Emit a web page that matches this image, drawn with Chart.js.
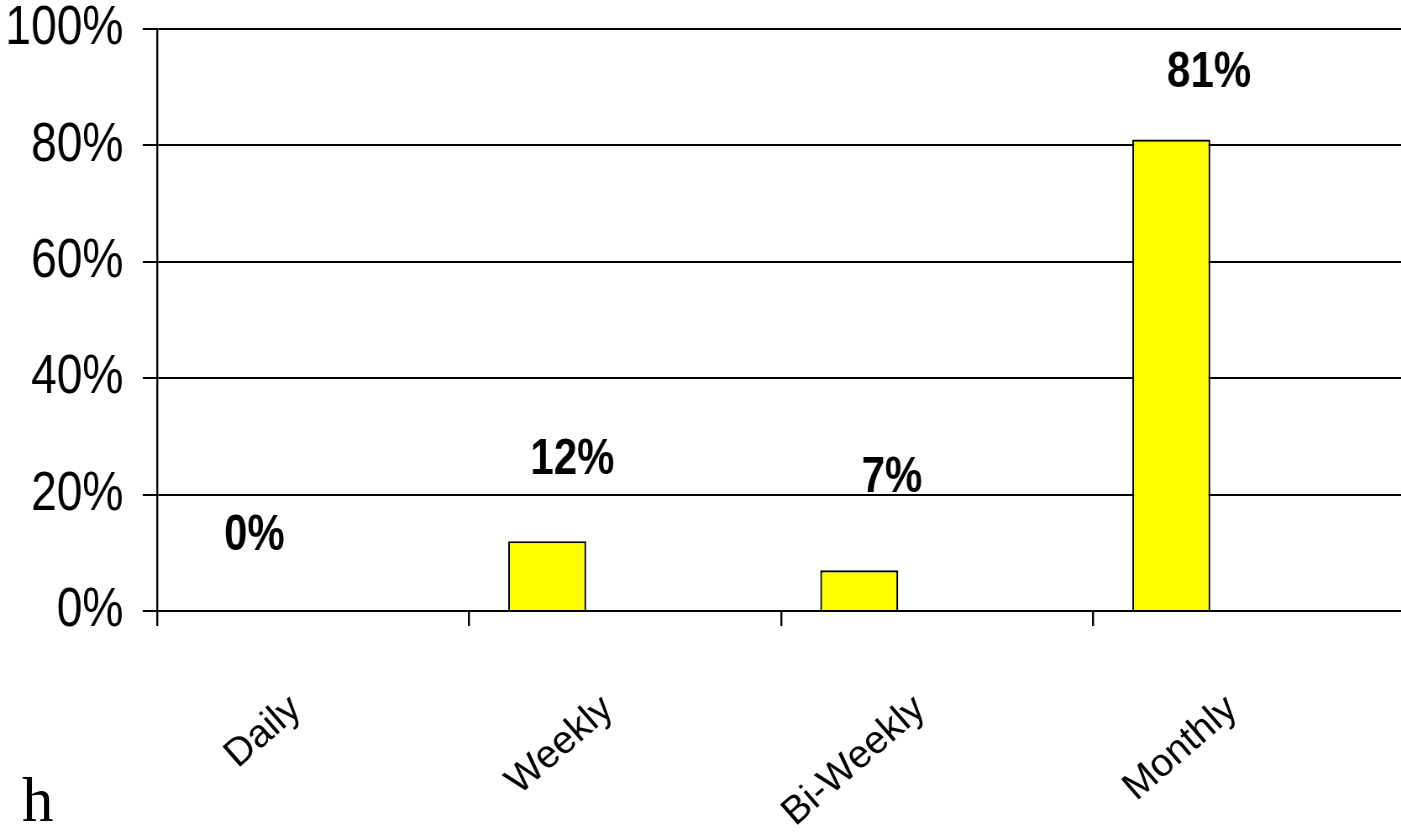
<!DOCTYPE html>
<html>
<head>
<meta charset="utf-8">
<script src="https://cdn.jsdelivr.net/npm/chart.js@4.4.1/dist/chart.umd.min.js"></script>
<style>
  html, body { margin: 0; padding: 0; background: #fff; overflow: hidden; }
  body { width: 1401px; height: 840px; position: relative; }
  /* chart text in the reference is narrow, so the chart is drawn wide and squeezed */
  #wrap { position: absolute; left: 0; top: 0; width: 1673px; height: 840px; transform: scaleX(0.84); transform-origin: 0 0; }
  #note { position: absolute; left: 22px; top: 769px; font: 63px/1 "Liberation Serif", "Times New Roman", serif; color: #000; }
</style>
</head>
<body>
<div id="wrap"><canvas id="chart"></canvas></div>
<div id="note">h</div>
<script>
const categories = ['Daily', 'Weekly', 'Bi-Weekly', 'Monthly'];
const shares = [0, 12, 7, 81];          // percent of responses
const yTicks = [0, 20, 40, 60, 80, 100];

const SANS = '"Liberation Sans", Arial, sans-serif';
const SQUEEZE = 0.84;                   // must match the css scaleX above

// bold value labels sitting above and right of each bar
const valueLabels = {
  id: 'valueLabels',
  afterDatasetsDraw(chart, args, opts) {
    const ctx = chart.ctx;
    const meta = chart.getDatasetMeta(0);
    ctx.save();
    ctx.font = 'bold 50px ' + SANS;
    ctx.fillStyle = '#000';
    ctx.textAlign = 'center';
    ctx.textBaseline = 'middle';
    meta.data.forEach((bar, i) => {
      const [dx, dy] = opts.nudge[i];
      ctx.fillText(shares[i] + '%', bar.x + dx, bar.y + dy);
    });
    ctx.restore();
  }
};

// slanted category labels, pre-stretched so the css squeeze leaves them unskewed
const slantLabels = {
  id: 'slantLabels',
  afterDraw(chart, args, opts) {
    const ctx = chart.ctx;
    const xs = chart.scales.x;
    ctx.save();
    ctx.font = opts.size + 'px ' + SANS;
    ctx.fillStyle = '#000';
    ctx.textAlign = 'right';
    ctx.textBaseline = 'alphabetic';
    categories.forEach((name, i) => {
      const px = xs.getPixelForTick(i) + opts.dx / SQUEEZE;
      const py = chart.chartArea.bottom + opts.drop;
      ctx.save();
      ctx.translate(px, py);
      ctx.scale(1 / SQUEEZE, 1);
      ctx.rotate(-opts.angle * Math.PI / 180);
      ctx.fillText(name, 0, 0);
      ctx.restore();
    });
    ctx.restore();
  }
};

const ctx = document.getElementById('chart').getContext('2d');
new Chart(ctx, {
  type: 'bar',
  data: {
    labels: categories,
    datasets: [
      {
        label: 'Frequency',
        data: shares,
        backgroundColor: '#ffff00',
        borderColor: '#000',
        borderWidth: 2.2,
      },
      // empty series kept so the bar sits left in its slot, as in the original
      { label: 'Series 2', data: [] },
      { label: 'Series 3', data: [] },
    ],
  },
  options: {
    responsive: true,
    maintainAspectRatio: false,
    animation: false,
    layout: { padding: { top: 29, left: 0, right: 0, bottom: 0 } },
    datasets: { bar: { categoryPercentage: 0.75, barPercentage: 1 } },
    plugins: {
      legend: { display: false },
      tooltip: { enabled: false },
      valueLabels: { nudge: [[23, -75], [30, -81], [39, -92], [45, -66]] },
      slantLabels: { size: 39, angle: 41, dx: -10, drop: 101 },
    },
    scales: {
      x: {
        grid: {
          display: true,
          drawOnChartArea: false,
          drawTicks: true,
          tickLength: 15,
          lineWidth: 2.4,
          color: '#000',
          offset: true,
        },
        border: { display: true, color: '#000', width: 2 },
        ticks: { display: false },
        afterFit(scale) {
          scale.height = 229;
          scale.paddingLeft = 0;
          scale.paddingRight = 0;
        },
      },
      y: {
        min: 0,
        max: 100,
        afterBuildTicks(scale) {
          scale.ticks = yTicks.map(v => ({ value: v }));
        },
        grid: {
          color: '#000',
          lineWidth: 2,
          drawTicks: true,
          tickLength: 17,
        },
        border: { display: true, color: '#000', width: 2.4 },
        ticks: {
          padding: 23,
          color: '#000',
          font: { family: SANS, size: 55 },
          callback: v => v + '%',
        },
        afterFit(scale) {
          scale.width = 187;
          scale.paddingTop = 0;
          scale.paddingBottom = 0;
        },
      },
    },
  },
  plugins: [valueLabels, slantLabels],
});
</script>
</body>
</html>
